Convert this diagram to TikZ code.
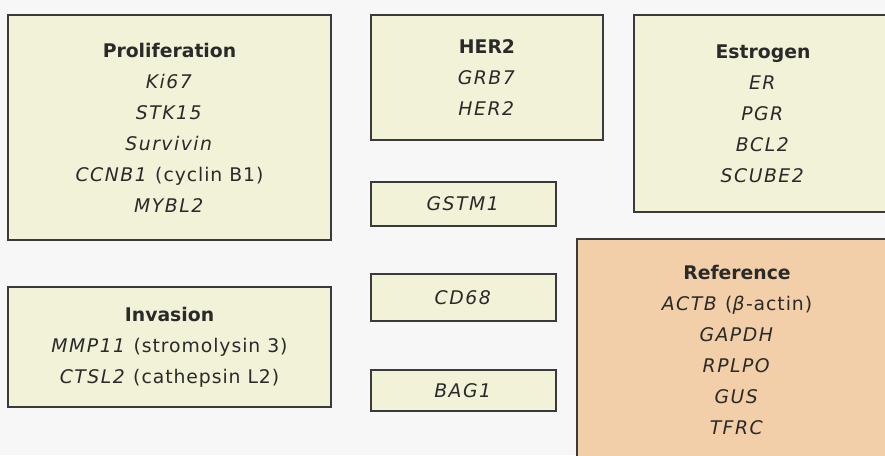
\documentclass[tikz,border=0pt]{standalone}
\usepackage{fontspec}
\setmainfont{DejaVu Sans}[UprightFeatures={LetterSpace=5},ItalicFeatures={LetterSpace=8},BoldFeatures={LetterSpace=0}]
\definecolor{bg}{HTML}{F7F7F7}
\definecolor{cream}{HTML}{F2F2D8}
\definecolor{peach}{HTML}{F2CFA8}
\definecolor{edge}{HTML}{3A3A3A}
\definecolor{ink}{HTML}{2A2A2A}
\begin{document}
\begin{tikzpicture}[x=1pt,y=-1pt,
  gbox/.style={draw=edge,line width=1.8pt,fill=cream,inner sep=0pt,
    align=center,text=ink,font=\fontsize{18.8}{31}\selectfont},
  rbox/.style={gbox,fill=peach}]
\useasboundingbox (0,0) rectangle (885,455);
\fill[bg] (0,0) rectangle (885,455);
\begin{scope}
\clip (0,0) rectangle (885,455);
\node[gbox,minimum width=323pt,minimum height=225pt] (prolif) at (169.5,127.5)
  {\textbf{Proliferation}\\\textit{Ki67}\\\textit{STK15}\\\textit{Survivin}\\\textit{CCNB1} (cyclin B1)\\\textit{MYBL2}};
\node[gbox,minimum width=232pt,minimum height=125pt] (her2) at (487,77.5)
  {\textbf{HER2}\\\textit{GRB7}\\\textit{HER2}};
\node[gbox,minimum width=258pt,minimum height=197pt] (estro) at (763,113.5)
  {\textbf{Estrogen}\\\textit{ER}\\\textit{PGR}\\\textit{BCL2}\\\textit{SCUBE2}};
\node[gbox,minimum width=185pt,minimum height=44pt] (gstm) at (463.5,204)
  {\textit{GSTM1}};
\node[gbox,minimum width=185pt,minimum height=47pt] (cd68) at (463.5,297.5)
  {\textit{CD68}};
\node[gbox,minimum width=185pt,minimum height=41pt] (bag) at (463.5,390.5)
  {\textit{BAG1}};
\node[gbox,minimum width=323pt,minimum height=120pt] (invas) at (169.5,347)
  {\textbf{Invasion}\\\textit{MMP11} (stromolysin 3)\\\textit{CTSL2} (cathepsin L2)};
\node[rbox,minimum width=320pt,minimum height=222pt] (refer) at (737,350)
  {\textbf{Reference}\\\textit{ACTB} (\textit{β}-actin)\\\textit{GAPDH}\\\textit{RPLPO}\\\textit{GUS}\\\textit{TFRC}};
\end{scope}
\end{tikzpicture}
\end{document}
